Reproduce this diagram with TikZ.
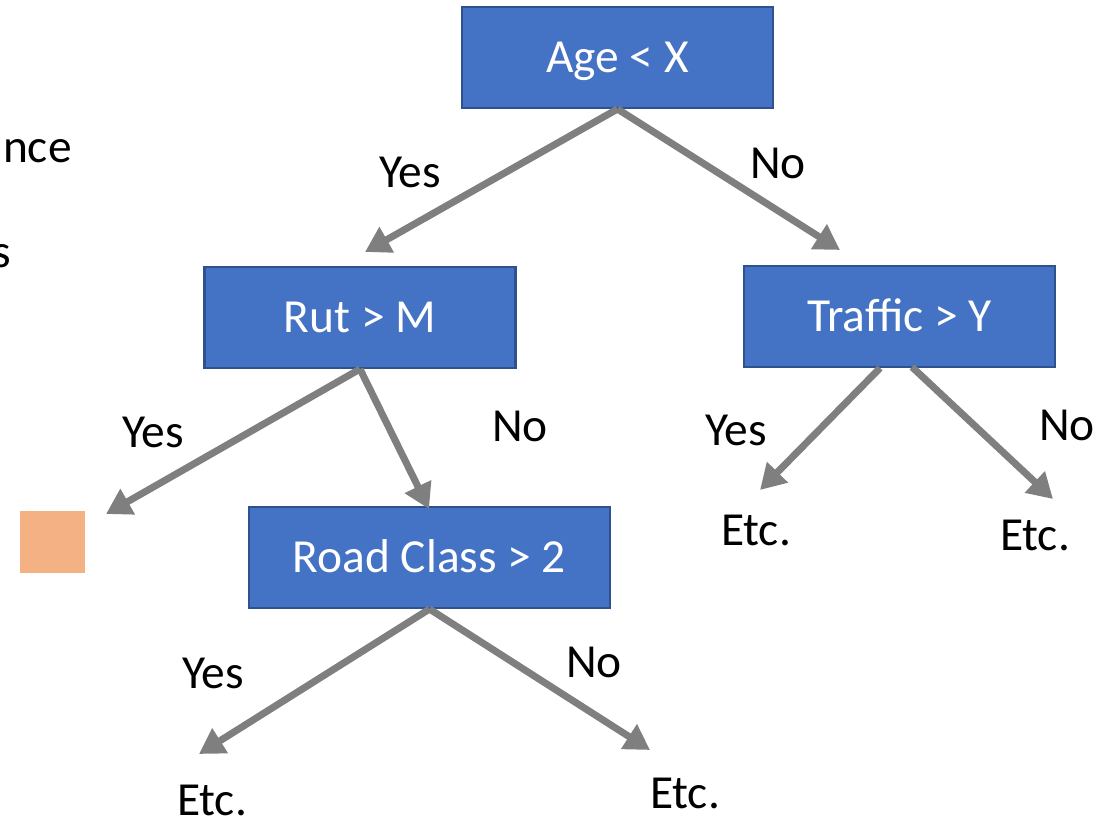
\documentclass[tikz,border=0pt]{standalone}
\usepackage{fontspec}
\setmainfont{Carlito}
\usetikzlibrary{arrows.meta}
\definecolor{boxblue}{HTML}{4472C4}
\definecolor{boxline}{HTML}{2F528F}
\definecolor{arrowgray}{HTML}{7F7F7F}
\definecolor{leafpeach}{HTML}{F4B183}
\begin{document}
\begin{tikzpicture}[x=0.02cm,y=-0.02cm,
    decision/.style={draw=boxline,line width=1.2pt,fill=boxblue,text=white,
        minimum width=6.22cm,minimum height=2.02cm,inner sep=0pt,
        text height=0.65em,text depth=0pt},
    branch/.style={arrowgray,line width=4pt,
        -{Triangle[length=0.5cm,width=0.56cm]}},
    answer/.style={inner sep=0pt}
]
    \fontsize{27}{32}\selectfont
    \useasboundingbox (0,0) rectangle (1115,820);

    % cut text at the left edge
    \node[answer,anchor=east] (cutA) at (72,151) {nce};
    \node[answer,anchor=east] (cutB) at (11,256) {s};

    % decision boxes
    \node[decision] (age) at (617.5,57.5) {Age < X};
    \node[decision] (rut) at (360,317.5) {Rut > M};
    \node[decision] (traffic) at (899.5,316.5) {Traffic > Y};
    \node[decision,minimum width=7.22cm] (road) at (429.5,557.5) {Road Class > 2};
    \fill[leafpeach] (20,511) rectangle (85,573);

    % arrow tips
    \coordinate (tipA) at (365,252);
    \coordinate (tipB) at (840,250);
    \coordinate (tipC) at (106,514);
    \coordinate (tipD) at (429,509);
    \coordinate (tipE) at (760,490);
    \coordinate (tipF) at (1053,499);
    \coordinate (tipG) at (199,754);
    \coordinate (tipH) at (650,750);
    \coordinate (trafL) at (880,368);
    \coordinate (trafR) at (912,367);

    \draw[branch] (age.south) -- (tipA);
    \draw[branch] (age.south) -- (tipB);
    \draw[branch] (rut.south) -- (tipC);
    \draw[branch] (rut.south) -- (tipD);
    \draw[branch] (trafL) -- (tipE);
    \draw[branch] (trafR) -- (tipF);
    \draw[branch] (road.south) -- (tipG);
    \draw[branch] (road.south) -- (tipH);

    % answers
    \node[answer] (yesA) at (410,172) {Yes};
    \node[answer] (noA) at (778,163) {No};
    \node[answer] (yesB) at (153,432) {Yes};
    \node[answer] (noB) at (520,426) {No};
    \node[answer] (yesC) at (736,430) {Yes};
    \node[answer] (noC) at (1067,425) {No};
    \node[answer] (yesD) at (213,673) {Yes};
    \node[answer] (noD) at (594,662) {No};
    \node[answer] (etcA) at (756,530) {Etc.};
    \node[answer] (etcB) at (1035,535) {Etc.};
    \node[answer] (etcC) at (212,800) {Etc.};
    \node[answer] (etcD) at (685,793) {Etc.};
\end{tikzpicture}
\end{document}
